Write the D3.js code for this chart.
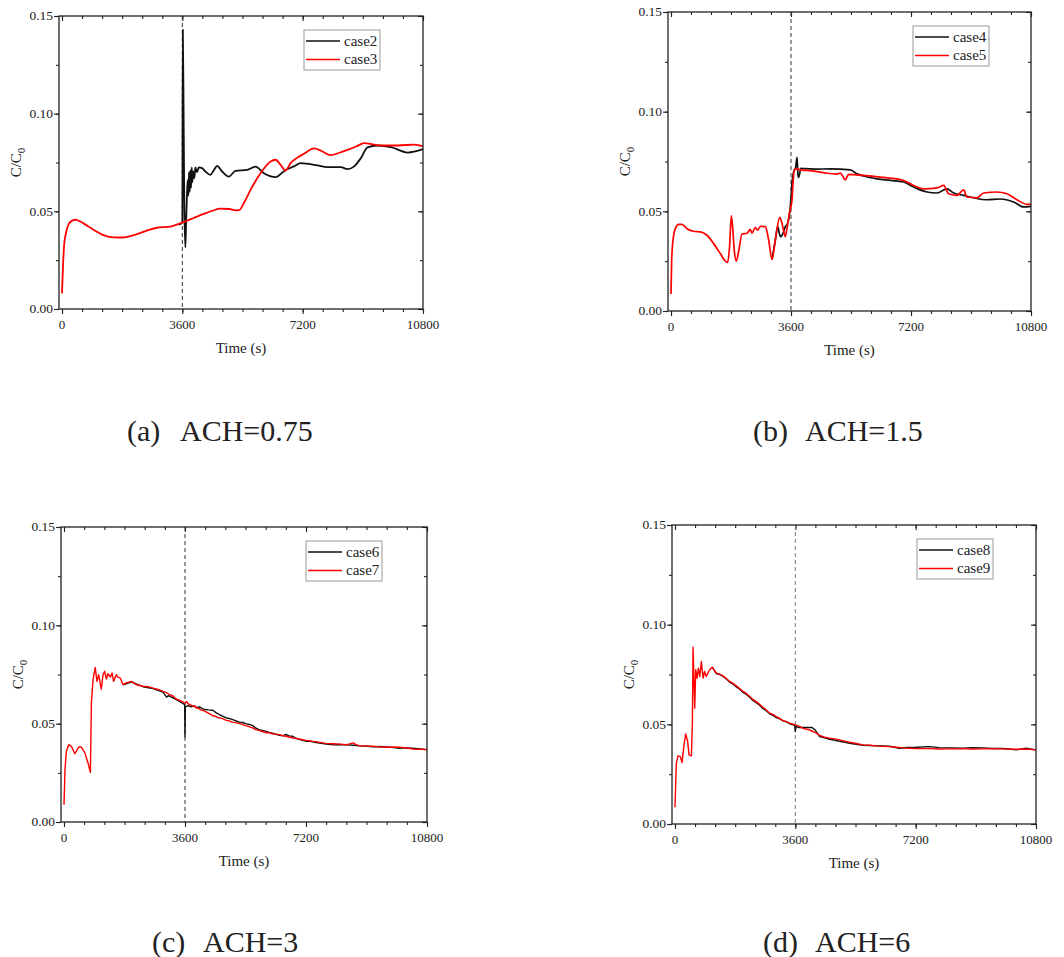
<!DOCTYPE html>
<html>
<head>
<meta charset="utf-8">
<script src="https://cdn.jsdelivr.net/npm/d3@7"></script>
<style>
  body { margin: 0; background: #fff; }
  text { font-family: "Liberation Serif", "Tinos", "Times New Roman", Times, serif; fill: #222; }
</style>
</head>
<body>
<svg width="1064" height="957"></svg>
<script>
// tick labels
const xTicks = [0, 3600, 7200, 10800];
const xMinor = d3.range(0, 10801, 600);
const yTicks = [0, 0.05, 0.10, 0.15];
const yMinor = [0, 0.025, 0.05, 0.075, 0.10, 0.125, 0.15];
const switchTime = 3600;

// (a) ACH=0.75
const case2 = [[3500,0.0432],[3580,0.0440],[3600,0.0445],[3615,0.1430],[3640,0.095],[3660,0.052],[3690,0.0315],
  [3715,0.046],[3740,0.059],[3760,0.066],[3780,0.058],[3800,0.070],[3820,0.060],[3840,0.071],[3860,0.062],
  [3880,0.0725],[3900,0.065],[3930,0.0705],[3960,0.067],[3990,0.0725],[4040,0.0700],[4090,0.0725],[4190,0.0721],
  [4290,0.0704],[4440,0.0687],[4540,0.0710],[4640,0.0733],[4790,0.0704],[4990,0.0678],[5190,0.0707],[5540,0.0712],
  [5790,0.0729],[6040,0.0695],[6390,0.0675],[6690,0.0712],[6940,0.073],[7140,0.0747],[7640,0.0735],[7940,0.0726],
  [8340,0.0726],[8540,0.0716],[8740,0.073],[8940,0.0772],[9140,0.0827],[9440,0.0837],[9840,0.0829],[10340,0.0801],
  [10800,0.0818]];
const case3 = [[0,0.008],[30,0.022],[60,0.032],[120,0.039],[200,0.0435],[300,0.0452],[400,0.0457],[550,0.0448],
  [700,0.0432],[940,0.0406],[1200,0.0381],[1540,0.0367],[1840,0.0366],[2100,0.0376],[2340,0.0389],[2600,0.0405],
  [2840,0.0416],[3240,0.0422],[3640,0.0445],[3940,0.0466],[4240,0.0487],[4500,0.0503],[4740,0.0514],[5000,0.0512],
  [5200,0.0505],[5300,0.0506],[5450,0.0545],[5640,0.061],[5940,0.0695],[6240,0.0755],[6390,0.0764],[6540,0.0738],
  [6690,0.0709],[6840,0.0747],[7040,0.0775],[7240,0.0795],[7540,0.0822],[7750,0.0810],[8040,0.0788],[8300,0.0800],
  [8540,0.0815],[8800,0.0832],[9040,0.0849],[9300,0.0843],[9540,0.0837],[10040,0.0837],[10540,0.0842],[10800,0.0834]];

// (b) ACH=1.5
const case4 = [[3030,0.0259],[3130,0.0356],[3200,0.0423],[3280,0.0373],[3360,0.039],[3430,0.0423],[3500,0.044],
  [3580,0.0524],[3640,0.066],[3680,0.0699],[3740,0.072],[3780,0.0771],[3810,0.068],[3830,0.067],[3900,0.0716],
  [4020,0.0714],[4320,0.0712],[4780,0.0713],[5380,0.0708],[5580,0.0688],[5780,0.0677],[6180,0.0663],[6580,0.0655],
  [6980,0.0647],[7280,0.0622],[7680,0.0597],[7980,0.0592],[8280,0.0613],[8480,0.0592],[8780,0.058],[9080,0.0568],
  [9480,0.0558],[9880,0.0562],[10280,0.0547],[10580,0.0522],[10800,0.0525]];
const case5 = [[0,0.0085],[20,0.0255],[60,0.0355],[130,0.0413],[230,0.0435],[330,0.0435],[480,0.0413],[680,0.040],
  [880,0.0397],[1080,0.038],[1280,0.0338],[1480,0.0288],[1620,0.0252],[1700,0.0244],[1760,0.033],[1810,0.0477],
  [1850,0.042],[1900,0.030],[1960,0.0251],[2030,0.030],[2130,0.0386],[2280,0.039],[2380,0.041],[2430,0.039],
  [2530,0.042],[2600,0.0405],[2680,0.0425],[2830,0.0423],[2930,0.0356],[3030,0.0259],[3130,0.0356],[3260,0.047],
  [3330,0.044],[3430,0.0373],[3480,0.0415],[3550,0.049],[3630,0.0557],[3660,0.064],[3700,0.0708],[3770,0.0714],
  [3880,0.0708],[4080,0.0705],[4380,0.0699],[4680,0.0691],[4980,0.0687],[5080,0.0692],[5230,0.0658],[5330,0.0685],
  [5780,0.068],[6280,0.0672],[6580,0.0667],[6980,0.0655],[7280,0.063],[7580,0.0613],[7980,0.0618],[8180,0.063],
  [8330,0.0588],[8580,0.058],[8780,0.0608],[8880,0.0572],[9180,0.0568],[9380,0.0592],[9780,0.0597],[10080,0.0588],
  [10380,0.0558],[10680,0.0535],[10800,0.0535]];

// (c) ACH=3
const case6 = [[1755,0.0698],[2005,0.0712],[2350,0.0688],[2650,0.0678],[2945,0.066],[3050,0.0635],[3100,0.0642],
  [3145,0.0640],[3340,0.0622],[3560,0.0600],[3590,0.0596],[3600,0.0432],[3610,0.0585],[3700,0.0592],[3780,0.0586],
  [3850,0.0590],[3940,0.0582],[4035,0.0585],[4120,0.0575],[4200,0.0572],[4300,0.0570],[4430,0.0568],[4520,0.0556],
  [4600,0.0548],[4700,0.0540],[4830,0.0529],[4920,0.0526],[5000,0.0522],[5100,0.0515],[5225,0.0508],[5320,0.0506],
  [5400,0.0500],[5520,0.0496],[5620,0.049],[5700,0.0478],[5800,0.0470],[5900,0.0466],[6020,0.0461],[6100,0.0456],
  [6200,0.0452],[6300,0.0446],[6415,0.0441],[6520,0.0438],[6600,0.0445],[6700,0.0438],[6810,0.0436],[6900,0.0426],
  [7000,0.0420],[7100,0.0415],[7210,0.0410],[7300,0.0411],[7400,0.0408],[7500,0.0404],[7605,0.0402],[7800,0.0396],
  [8000,0.0392],[8200,0.0394],[8400,0.0392],[8600,0.0390],[8795,0.0387],[9000,0.0386],[9190,0.0382],[9400,0.0384],
  [9590,0.0382],[9800,0.0378],[9985,0.0375],[10200,0.0377],[10380,0.0375],[10600,0.0371],[10800,0.0368]];
const case7 = [[0,0.0088],[30,0.0266],[70,0.0359],[140,0.0393],[220,0.0385],[320,0.0347],[440,0.0381],[515,0.0381],
  [615,0.0354],[715,0.030],[785,0.0253],[815,0.0605],[865,0.0724],[930,0.0786],[980,0.0715],[1030,0.0749],
  [1110,0.0676],[1160,0.0749],[1210,0.0766],[1260,0.0727],[1310,0.0754],[1380,0.0737],[1430,0.0758],[1475,0.0715],
  [1555,0.0749],[1605,0.0737],[1675,0.0732],[1755,0.0698],[1855,0.0707],[2005,0.0715],[2150,0.0698],[2350,0.069],
  [2500,0.0688],[2650,0.0681],[2800,0.0674],[2945,0.0664],[3050,0.0658],[3145,0.0647],[3250,0.0640],[3340,0.0625],
  [3450,0.0618],[3600,0.0605],[3650,0.0612],[3700,0.0600],[3760,0.0596],[3840,0.0588],[3900,0.0590],[3950,0.0578],
  [4000,0.0580],[4060,0.0570],[4135,0.0568],[4200,0.0562],[4280,0.0555],[4350,0.0548],[4430,0.054],[4500,0.0538],
  [4600,0.0530],[4700,0.0527],[4830,0.0517],[4900,0.0515],[5000,0.0508],[5100,0.0505],[5225,0.050],[5300,0.0496],
  [5400,0.0490],[5500,0.0485],[5620,0.0478],[5700,0.0470],[5800,0.0466],[5900,0.0460],[6020,0.0453],[6100,0.0455],
  [6200,0.0448],[6300,0.0447],[6415,0.0444],[6500,0.0440],[6600,0.0436],[6700,0.0432],[6810,0.0427],[6900,0.0425],
  [7000,0.0422],[7100,0.0418],[7210,0.0415],[7300,0.0413],[7400,0.0410],[7500,0.0408],[7605,0.0405],[7800,0.0400],
  [8000,0.0398],[8200,0.0396],[8400,0.0393],[8500,0.0397],[8600,0.0402],[8700,0.0392],[8795,0.0388],[9000,0.0387],
  [9190,0.0385],[9400,0.0382],[9590,0.038],[9800,0.0381],[9985,0.038],[10200,0.0376],[10380,0.0371],[10600,0.0370],
  [10800,0.0368]];

// (d) ACH=6
const case8 = [[1115,0.0787],[1235,0.0755],[1335,0.0750],[1435,0.0740],[1535,0.0728],[1635,0.0712],[1735,0.0702],
  [1835,0.0688],[1935,0.0676],[2035,0.0660],[2135,0.0650],[2235,0.0636],[2330,0.0620],[2430,0.0608],[2530,0.0596],
  [2630,0.0580],[2730,0.0568],[2830,0.0553],[2930,0.0545],[3030,0.0534],[3130,0.0528],[3230,0.0517],[3330,0.0512],
  [3430,0.0503],[3580,0.0495],[3600,0.0464],[3620,0.0490],[3700,0.0484],[3850,0.0484],[4100,0.0484],[4200,0.0470],
  [4325,0.0439],[4480,0.0432],[4625,0.0425],[4780,0.0420],[4925,0.0415],[5080,0.0410],[5225,0.0405],[5420,0.0400],
  [5625,0.0395],[5820,0.0394],[6020,0.0392],[6220,0.0391],[6420,0.039],[6700,0.0380],[6950,0.0384],[7220,0.0385],
  [7615,0.0388],[7900,0.0383],[8215,0.0382],[8615,0.038],[8900,0.0383],[9210,0.0382],[9500,0.0379],[9810,0.0379],
  [10000,0.0376],[10210,0.0372],[10500,0.038],[10800,0.0372]];
const case9 = [[0,0.0084],[40,0.0305],[90,0.0342],[160,0.0338],[210,0.0308],[270,0.0397],[320,0.0452],[380,0.0414],
  [420,0.0347],[490,0.0342],[520,0.0506],[540,0.0887],[570,0.0707],[590,0.0581],[620,0.0774],[660,0.0732],
  [700,0.0782],[740,0.074],[790,0.0815],[840,0.0732],[885,0.0765],[935,0.074],[1035,0.0774],[1115,0.0787],
  [1235,0.0757],[1335,0.0752],[1435,0.0743],[1535,0.0730],[1635,0.0715],[1735,0.0706],[1835,0.0693],[1935,0.0680],
  [2035,0.0665],[2135,0.0655],[2235,0.064],[2330,0.0625],[2430,0.0614],[2530,0.0600],[2630,0.0586],[2730,0.0572],
  [2830,0.0556],[2930,0.0550],[3030,0.0539],[3130,0.0530],[3230,0.0519],[3330,0.0514],[3430,0.0506],[3600,0.0497],
  [3700,0.0492],[3830,0.048],[3980,0.0474],[4130,0.0464],[4230,0.0456],[4325,0.0444],[4480,0.0436],[4625,0.043],
  [4780,0.0427],[4925,0.0422],[5080,0.0416],[5225,0.041],[5420,0.0404],[5625,0.0397],[5820,0.0395],[6020,0.0392],
  [6220,0.0390],[6420,0.0388],[6620,0.0385],[6820,0.0382],[7020,0.0380],[7220,0.0378],[7615,0.0378],[7900,0.0376],
  [8215,0.0377],[8615,0.0378],[8900,0.0376],[9210,0.0377],[9500,0.0378],[9810,0.0377],[10210,0.0375],[10500,0.0376],
  [10800,0.0372]];

const panels = [
  { tag: "(a)", title: "ACH=0.75", names: ["case2", "case3"], series: [case2, case3],
    left: 59, right: 423, top: 16, bottom: 309, x0: 62, curve: d3.curveMonotoneX, lw: 1.8,
    capX: 127, capX2: 180, capY: 441, dash: "#444" },
  { tag: "(b)", title: "ACH=1.5", names: ["case4", "case5"], series: [case4, case5],
    left: 668, right: 1031, top: 12, bottom: 311, x0: 671, curve: d3.curveMonotoneX, lw: 1.7,
    capX: 753, capX2: 805, capY: 441, dash: "#444" },
  { tag: "(c)", title: "ACH=3", names: ["case6", "case7"], series: [case6, case7],
    left: 61, right: 427, top: 527, bottom: 822, x0: 64, curve: d3.curveLinear, lw: 1.4,
    capX: 152, capX2: 203, capY: 952, dash: "#444" },
  { tag: "(d)", title: "ACH=6", names: ["case8", "case9"], series: [case8, case9],
    left: 672, right: 1036, top: 525, bottom: 824, x0: 675, curve: d3.curveLinear, lw: 1.4,
    capX: 763, capX2: 815, capY: 952, dash: "#888" }
];
const colors = ["#111", "#f00"];

const svg = d3.select("svg");

panels.forEach(p => {
  const x = d3.scaleLinear().domain([0, 10800]).range([p.x0, p.right]);
  const y = d3.scaleLinear().domain([0, 0.15]).range([p.bottom, p.top]);
  const g = svg.append("g");

  // ticks: out on bottom/left, in on top/right
  const addAxis = (axis, tr) => {
    const a = g.append("g").attr("transform", tr).call(axis);
    a.select(".domain").remove();
    a.selectAll("line").attr("stroke", "#222").attr("stroke-width", 1.1);
    a.selectAll("text").remove();
  };
  addAxis(d3.axisBottom(x).tickValues(xMinor).tickSize(3), `translate(0,${p.bottom})`);
  addAxis(d3.axisBottom(x).tickValues(xTicks).tickSize(5), `translate(0,${p.bottom})`);
  addAxis(d3.axisTop(x).tickValues(xMinor).tickSize(-3), `translate(0,${p.top})`);
  addAxis(d3.axisTop(x).tickValues(xTicks).tickSize(-5), `translate(0,${p.top})`);
  addAxis(d3.axisLeft(y).tickValues(yMinor).tickSize(3), `translate(${p.left},0)`);
  addAxis(d3.axisLeft(y).tickValues(yTicks).tickSize(5), `translate(${p.left},0)`);
  addAxis(d3.axisRight(y).tickValues(yMinor).tickSize(-3), `translate(${p.right},0)`);
  addAxis(d3.axisRight(y).tickValues(yTicks).tickSize(-5), `translate(${p.right},0)`);

  g.selectAll("text.xt").data(xTicks).enter().append("text")
    .attr("x", d => x(d)).attr("y", p.bottom + 20)
    .attr("text-anchor", "middle").attr("font-size", 13).text(d => d);
  g.selectAll("text.yt").data(yTicks).enter().append("text")
    .attr("x", p.left - 6).attr("y", d => y(d)).attr("dy", "0.33em")
    .attr("text-anchor", "end").attr("font-size", 13.5).text(d3.format(".2f"));

  g.append("text").attr("x", (p.left + p.right) / 2).attr("y", p.bottom + 44)
    .attr("text-anchor", "middle").attr("font-size", 15).text("Time (s)");
  const yl = g.append("text")
    .attr("transform", `translate(${p.left - 38},${(p.top + p.bottom) / 2}) rotate(-90)`)
    .attr("text-anchor", "middle").attr("font-size", 15);
  yl.append("tspan").text("C/C");
  yl.append("tspan").attr("font-size", 11).attr("dy", 4).text("0");

  // switch line
  g.append("line")
    .attr("x1", x(switchTime)).attr("x2", x(switchTime))
    .attr("y1", p.top).attr("y2", p.bottom)
    .attr("stroke", p.dash).attr("stroke-width", 1.1).attr("stroke-dasharray", "4,3");

  const line = d3.line().x(d => x(d[0])).y(d => y(d[1])).curve(p.curve);
  p.series.forEach((s, i) => {
    g.append("path").datum(s)
      .attr("d", line).attr("fill", "none")
      .attr("stroke", colors[i]).attr("stroke-width", p.lw).attr("stroke-linejoin", "round");
  });

  // frame
  g.append("rect")
    .attr("x", p.left).attr("y", p.top)
    .attr("width", p.right - p.left).attr("height", p.bottom - p.top)
    .attr("fill", "none").attr("stroke", "#222").attr("stroke-width", 1.3);

  // legend
  const lg = g.append("g").attr("transform", `translate(${p.left + 245},${p.top + 14})`);
  lg.append("rect").attr("width", 76).attr("height", 40)
    .attr("fill", "#fff").attr("stroke", "#999").attr("stroke-width", 1);
  p.names.forEach((n, i) => {
    const yy = 11 + i * 18.5;
    lg.append("line").attr("x1", 2).attr("x2", 36).attr("y1", yy).attr("y2", yy)
      .attr("stroke", colors[i]).attr("stroke-width", 1.5);
    lg.append("text").attr("x", 40).attr("y", yy).attr("dy", "0.33em")
      .attr("font-size", 15).text(n);
  });

  // caption
  svg.append("text").attr("x", p.capX).attr("y", p.capY).attr("font-size", 30).text(p.tag);
  svg.append("text").attr("x", p.capX2).attr("y", p.capY).attr("font-size", 30).text(p.title);
});
</script>
</body>
</html>
